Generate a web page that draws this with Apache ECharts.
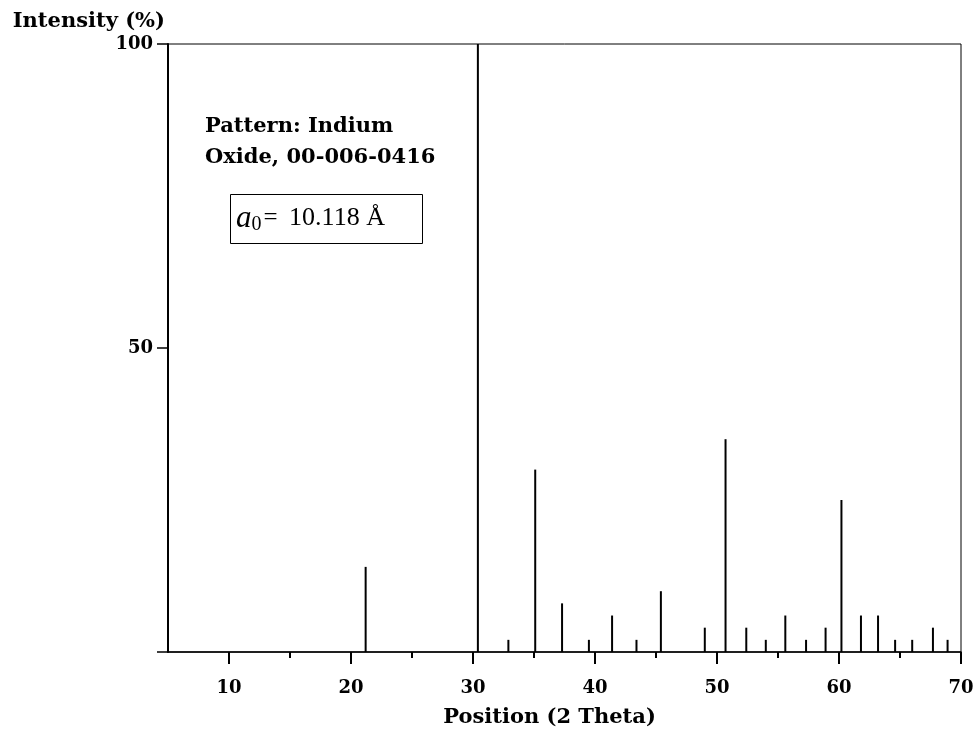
<!DOCTYPE html>
<html>
<head>
<meta charset="utf-8">
<script src="https://cdn.jsdelivr.net/npm/echarts@6/dist/echarts.min.js"></script>
<style>html,body{margin:0;padding:0;background:#fff;}#c{width:976px;height:729px;}</style>
</head>
<body>
<div id="c"></div>
<script>
// Peak positions (2 Theta) and relative intensities (%)
const positions = [21.2, 30.4, 32.9, 35.1, 37.3, 39.5, 41.4, 43.4, 45.4, 49.0, 50.7, 52.4, 54.0, 55.6, 57.3, 58.9, 60.2, 61.8, 63.2, 64.6, 66.0, 67.7, 68.9];
const intensities = [14, 100, 2, 30, 8, 2, 6, 2, 10, 4, 35, 4, 2, 6, 2, 4, 25, 6, 6, 2, 2, 4, 2];
const xMajorTicks = [10, 20, 30, 40, 50, 60, 70];
const xMinorTicks = [15, 25, 35, 45, 55, 65];
const yTicks = [0, 50, 100];
const yLabels = [50, 100];

const boldSerif = '"DejaVu Serif", "Liberation Serif", serif';
const serif = '"Liberation Serif", "DejaVu Serif", serif';
const chart = echarts.init(document.getElementById('c'));
const peaks = positions.map((p, i) => [p, intensities[i]]);

chart.setOption({
  animation: false,
  backgroundColor: '#fff',
  grid: { left: 168, right: 15, top: 44, bottom: 77, outerBoundsMode: 'none', containLabel: false, show: true, borderColor: '#000', borderWidth: 1, backgroundColor: 'transparent' },
  xAxis: [{
    type: 'value', min: 5, max: 70,
    name: 'Position (2 Theta)', nameLocation: 'middle', nameGap: 55,
    nameTextStyle: { fontFamily: boldSerif, fontWeight: 'bold', fontSize: 21, color: '#000', padding: [0, 30, 0, 0] },
    axisLine: { show: true, onZero: false, lineStyle: { color: '#000', width: 1.5 } },
    axisTick: { show: true, customValues: xMajorTicks, length: 12, lineStyle: { color: '#000', width: 2 } },
    axisLabel: { show: true, customValues: xMajorTicks, margin: 27, fontFamily: boldSerif, fontWeight: 'bold', fontSize: 18, color: '#000' },
    splitLine: { show: false }
  }, {
    type: 'value', min: 5, max: 70, position: 'bottom',
    axisLine: { show: false },
    axisTick: { show: true, customValues: xMinorTicks, length: 6, lineStyle: { color: '#000', width: 2 } },
    axisLabel: { show: false },
    splitLine: { show: false }
  }],
  yAxis: {
    type: 'value', min: 0, max: 100,
    name: 'Intensity (%)', nameLocation: 'end', nameGap: 12,
    nameTextStyle: { fontFamily: boldSerif, fontWeight: 'bold', fontSize: 21, color: '#000', align: 'right', padding: [0, 3, 0, 0] },
    axisLine: { show: true, onZero: false, lineStyle: { color: '#000', width: 2 } },
    axisTick: { show: true, customValues: yTicks, length: 11, lineStyle: { color: '#000', width: 1.5 } },
    axisLabel: { show: true, customValues: yLabels, margin: 15, fontFamily: boldSerif, fontWeight: 'bold', fontSize: 18, color: '#000' },
    splitLine: { show: false }
  },
  series: [{
    type: 'bar', xAxisIndex: 0, data: peaks, barWidth: 2, silent: true,
    itemStyle: { color: '#000' }
  }],
  graphic: [{
    type: 'text', left: 205, top: 111,
    style: { text: 'Pattern: Indium\nOxide, 00-006-0416', fontFamily: boldSerif, fontWeight: 'bold', fontSize: 21, lineHeight: 31, fill: '#000' }
  }, {
    type: 'rect', shape: { x: 230.5, y: 194.5, width: 192, height: 49 },
    style: { fill: 'transparent', stroke: '#000', lineWidth: 1 }
  }, {
    type: 'text', left: 236, top: 203,
    style: {
      text: '{i|a}{s|0}{e|=}{n| 10.118 Å}',
      rich: {
        i: { fontFamily: serif, fontStyle: 'italic', fontSize: 31, fill: '#000' },
        s: { fontFamily: serif, fontSize: 20, fill: '#000', verticalAlign: 'bottom', padding: [12, 2, 0, 0] },
        e: { fontFamily: serif, fontSize: 25, fill: '#000' },
        n: { fontFamily: serif, fontSize: 26, fill: '#000', padding: [0, 0, 0, 5] }
      }
    }
  }]
});
</script>
</body>
</html>
